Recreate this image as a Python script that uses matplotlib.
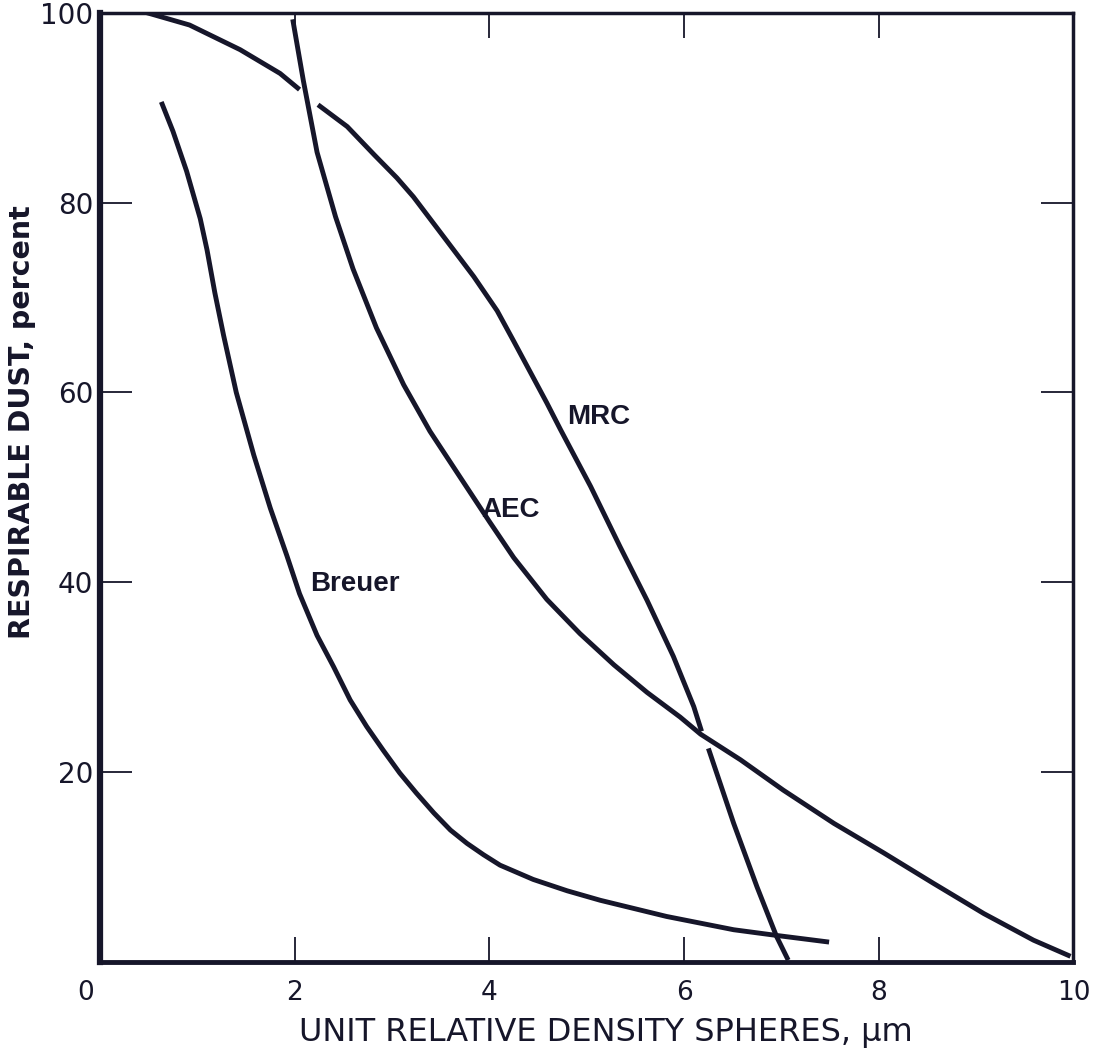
import numpy as np
import matplotlib
matplotlib.use("Agg")
import matplotlib.pyplot as plt
from matplotlib.transforms import ScaledTranslation

nan = np.nan

# curve readings (x in um, y in percent); nan marks the breaks in the inked line
mrc_x = [0.48, 0.92, 1.44, 1.85, 2.05, nan, 2.24, 2.54, 2.82, 3.05, 3.22, 3.56, 3.84, 4.08, 4.25,
         4.59, 4.73, 5.04, 5.34, 5.62, 5.89, 6.10, 6.18, nan, 6.25, 6.51, 6.75, 6.95, 7.07]
mrc_y = [100.0, 98.7, 96.1, 93.6, 91.9, nan, 90.3, 88.0, 85.0, 82.6, 80.6, 76.0, 72.2, 68.6, 65.4,
         58.9, 56.1, 50.1, 43.8, 38.1, 32.2, 26.9, 24.3, nan, 22.5, 14.6, 7.9, 2.7, 0.2]

aec_x = [1.98, 2.09, 2.23, 2.42, 2.60, 2.84, 3.12, 3.39, 3.73, 4.00, 4.25, 4.59, 4.93, 5.28, 5.62,
         5.96, 6.17, 6.58, 7.02, 7.54, 8.05, 8.56, 9.08, 9.59, 9.97]
aec_y = [99.3, 92.8, 85.3, 78.5, 73.0, 66.8, 60.8, 55.9, 50.6, 46.4, 42.6, 38.2, 34.6, 31.3, 28.4,
         25.8, 24.0, 21.3, 18.1, 14.6, 11.5, 8.3, 5.1, 2.3, 0.6]

breuer_x = [0.63, 0.75, 0.89, 1.03, 1.10, 1.18, 1.27, 1.40, 1.58, 1.75, 1.92, 2.05, 2.23, 2.40, 2.57,
            2.74, 2.91, 3.08, 3.25, 3.43, 3.60, 3.77, 3.94, 4.11, 4.45, 4.80, 5.14, 5.82, 6.51, 6.95, 7.49]
breuer_y = [90.6, 87.5, 83.3, 78.3, 75.0, 70.5, 66.0, 60.0, 53.4, 47.8, 42.8, 38.8, 34.4, 31.1, 27.6,
            24.8, 22.3, 19.9, 17.8, 15.7, 13.9, 12.5, 11.3, 10.2, 8.7, 7.5, 6.5, 4.8, 3.4, 2.8, 2.1]

labels = ["MRC", "AEC", "Breuer"]
label_x = [4.80, 3.92, 2.16]
label_y = [57.4, 47.6, 39.8]

xticks = [0, 2, 4, 6, 8, 10]
yticks = [20, 40, 60, 80, 100]

ink = "#16162a"

fig = plt.figure(figsize=(10.95, 10.56), dpi=100)
ax = fig.add_axes([0.0913, 0.089, 0.889, 0.899])

for xs, ys in [(mrc_x, mrc_y), (aec_x, aec_y), (breuer_x, breuer_y)]:
    ax.plot(xs, ys, color=ink, lw=3.5, solid_capstyle="butt", solid_joinstyle="round")

for t, x, y in zip(labels, label_x, label_y):
    ax.text(x, y, t, fontsize=20, fontweight="bold", color=ink,
            family=["Liberation Sans", "DejaVu Sans"], ha="left", va="center")

ax.set_xlim(0, 10)
ax.set_ylim(0, 100)
ax.set_xticks(xticks)
ax.set_xticklabels([str(v) for v in xticks])
ax.set_yticks(yticks)
ax.set_yticklabels([str(v) for v in yticks])

ax.tick_params(direction="in", width=1.3, colors=ink, top=True, right=True)
ax.tick_params(axis="y", length=23, pad=5, labelsize=20)
ax.tick_params(axis="x", length=18, pad=13, labelsize=19)

# the "0" under the corner sits a little left of the axis line
zero_lbl = ax.xaxis.get_major_ticks()[0].label1
zero_lbl.set_transform(zero_lbl.get_transform() + ScaledTranslation(-0.14, 0, fig.dpi_scale_trans))

for side, w in [("left", 4.5), ("bottom", 3.5), ("top", 2.5), ("right", 2.5)]:
    ax.spines[side].set_linewidth(w)
    ax.spines[side].set_color(ink)

ax.set_xlabel("UNIT RELATIVE DENSITY SPHERES, \u03bcm", fontsize=23, color=ink)
ax.xaxis.set_label_coords(0.52, -0.058)
ax.set_ylabel("RESPIRABLE DUST, percent", fontsize=20.5, color=ink, fontweight="bold",
              family=["Liberation Sans Narrow", "DejaVu Sans"])
ax.yaxis.set_label_coords(-0.066, 0.569)

fig.savefig("out.png", dpi=100, facecolor="white")
